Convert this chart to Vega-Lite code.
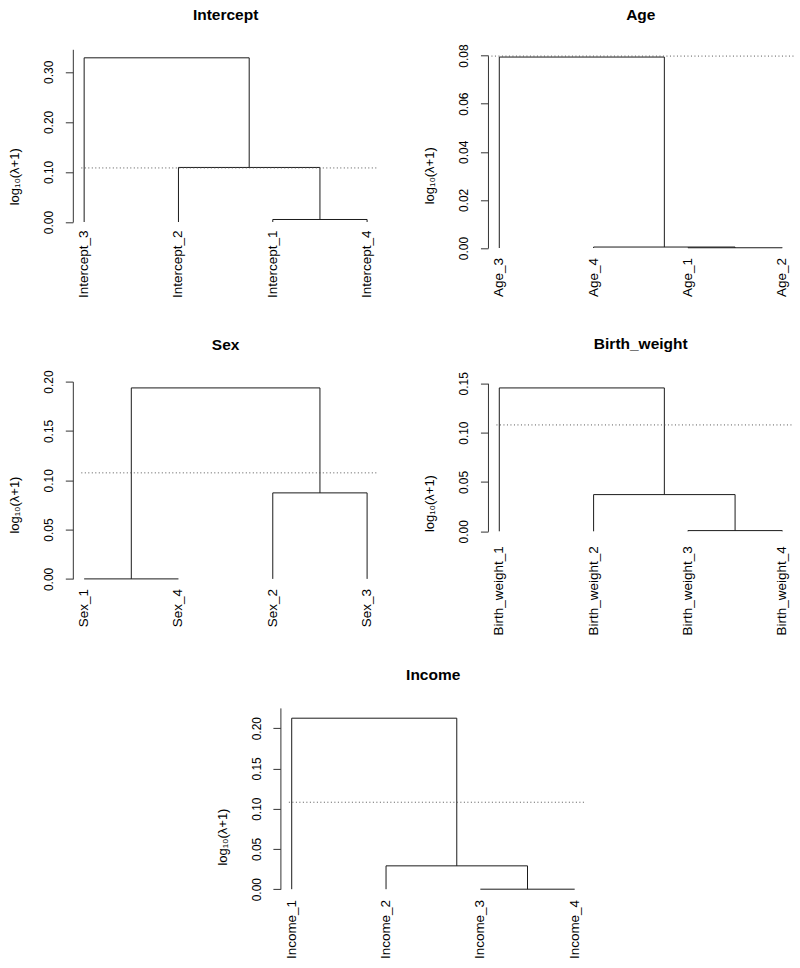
{
  "$schema": "https://vega.github.io/schema/vega-lite/v6.json",
  "background": "white",
  "padding": {"left": 8.45, "top": 7.3, "right": 2, "bottom": 2},
  "config": {
    "view": {"stroke": null},
    "font": "Liberation Sans",
    "title": {"font": "Liberation Sans", "fontSize": 15.5, "fontWeight": "bold", "color": "#000", "anchor": "middle", "frame": "group", "baseline": "alphabetic"},
    "axis": {"grid": false, "domainColor": "#333", "tickColor": "#333", "labelColor": "#000", "titleColor": "#000", "labelFont": "Liberation Sans", "titleFont": "Liberation Sans", "domainWidth": 1, "tickWidth": 1}
  },
  "datasets": {
    "seg_intercept": [
      {"x": 3, "x2": 4, "y": 0.005, "y2": 0.005}, {"x": 3, "x2": 3, "y": 0, "y2": 0.005}, {"x": 4, "x2": 4, "y": 0, "y2": 0.005},
      {"x": 2, "x2": 3.5, "y": 0.109, "y2": 0.109}, {"x": 2, "x2": 2, "y": 0, "y2": 0.109}, {"x": 3.5, "x2": 3.5, "y": 0.005, "y2": 0.109},
      {"x": 1, "x2": 2.75, "y": 0.328, "y2": 0.328}, {"x": 1, "x2": 1, "y": 0, "y2": 0.328}, {"x": 2.75, "x2": 2.75, "y": 0.109, "y2": 0.328}
    ],
    "seg_age": [
      {"x": 3, "x2": 4, "y": 0.0001, "y2": 0.0001}, {"x": 3, "x2": 3, "y": 0, "y2": 0.0001}, {"x": 4, "x2": 4, "y": 0, "y2": 0.0001},
      {"x": 2, "x2": 3.5, "y": 0.0004, "y2": 0.0004}, {"x": 2, "x2": 2, "y": 0, "y2": 0.0004}, {"x": 3.5, "x2": 3.5, "y": 0.0001, "y2": 0.0004},
      {"x": 1, "x2": 2.75, "y": 0.0794, "y2": 0.0794}, {"x": 1, "x2": 1, "y": 0, "y2": 0.0794}, {"x": 2.75, "x2": 2.75, "y": 0.0004, "y2": 0.0794}
    ],
    "seg_sex": [
      {"x": 1, "x2": 2, "y": 0, "y2": 0},
      {"x": 3, "x2": 4, "y": 0.0872, "y2": 0.0872}, {"x": 3, "x2": 3, "y": 0, "y2": 0.0872}, {"x": 4, "x2": 4, "y": 0, "y2": 0.0872},
      {"x": 1.5, "x2": 3.5, "y": 0.1936, "y2": 0.1936}, {"x": 1.5, "x2": 1.5, "y": 0, "y2": 0.1936}, {"x": 3.5, "x2": 3.5, "y": 0.0872, "y2": 0.1936}
    ],
    "seg_bw": [
      {"x": 3, "x2": 4, "y": 0.0007, "y2": 0.0007}, {"x": 3, "x2": 3, "y": 0, "y2": 0.0007}, {"x": 4, "x2": 4, "y": 0, "y2": 0.0007},
      {"x": 2, "x2": 3.5, "y": 0.0372, "y2": 0.0372}, {"x": 2, "x2": 2, "y": 0, "y2": 0.0372}, {"x": 3.5, "x2": 3.5, "y": 0.0007, "y2": 0.0372},
      {"x": 1, "x2": 2.75, "y": 0.1453, "y2": 0.1453}, {"x": 1, "x2": 1, "y": 0, "y2": 0.1453}, {"x": 2.75, "x2": 2.75, "y": 0.0372, "y2": 0.1453}
    ],
    "seg_income": [
      {"x": 3, "x2": 4, "y": 0, "y2": 0},
      {"x": 2, "x2": 3.5, "y": 0.029, "y2": 0.029}, {"x": 2, "x2": 2, "y": 0, "y2": 0.029}, {"x": 3.5, "x2": 3.5, "y": 0, "y2": 0.029},
      {"x": 1, "x2": 2.75, "y": 0.2124, "y2": 0.2124}, {"x": 1, "x2": 1, "y": 0, "y2": 0.2124}, {"x": 2.75, "x2": 2.75, "y": 0.029, "y2": 0.2124}
    ],
    "thr_intercept": [{"x": 0.97, "x2": 4.12, "h": 0.108}],
    "thr_age": [{"x": 0.88, "x2": 4.12, "h": 0.0798}],
    "thr_sex": [{"x": 0.97, "x2": 4.12, "h": 0.1075}],
    "thr_bw": [{"x": 0.97, "x2": 4.12, "h": 0.1078}],
    "thr_income": [{"x": 0.97, "x2": 4.12, "h": 0.108}],
    "leaf_intercept": [{"pos": 1, "label": "Intercept_3"}, {"pos": 2, "label": "Intercept_2"}, {"pos": 3, "label": "Intercept_1"}, {"pos": 4, "label": "Intercept_4"}],
    "leaf_age": [{"pos": 1, "label": "Age_3"}, {"pos": 2, "label": "Age_4"}, {"pos": 3, "label": "Age_1"}, {"pos": 4, "label": "Age_2"}],
    "leaf_sex": [{"pos": 1, "label": "Sex_1"}, {"pos": 2, "label": "Sex_4"}, {"pos": 3, "label": "Sex_2"}, {"pos": 4, "label": "Sex_3"}],
    "leaf_bw": [{"pos": 1, "label": "Birth_weight_1"}, {"pos": 2, "label": "Birth_weight_2"}, {"pos": 3, "label": "Birth_weight_3"}, {"pos": 4, "label": "Birth_weight_4"}],
    "leaf_income": [{"pos": 1, "label": "Income_1"}, {"pos": 2, "label": "Income_2"}, {"pos": 3, "label": "Income_3"}, {"pos": 4, "label": "Income_4"}]
  },
  "center": true,
  "spacing": 31.6,
  "vconcat": [
    {
      "spacing": 38.3,
      "vconcat": [
        {
          "spacing": 44.15,
          "hconcat": [
            {
              "width": 305.6, "height": 172.7,
              "title": {"text": "Intercept", "offset": 25.5},
              "layer": [
                {"data": {"name": "seg_intercept"}, "mark": {"type": "rule", "color": "#1a1a1a", "strokeWidth": 1},
                 "encoding": {
                   "x": {"field": "x", "type": "quantitative", "scale": {"domain": [0.88, 4.12], "nice": false, "zero": false}, "axis": null},
                   "x2": {"field": "x2"},
                   "y": {"field": "y", "type": "quantitative", "scale": {"domain": [0, 0.345], "nice": false, "zero": false},
                         "axis": {"values": [0, 0.05, 0.1, 0.15, 0.2, 0.25, 0.3], "labelExpr": "(round(datum.value*100) % 10 == 0) ? format(datum.value, '.2f') : ''",
                                  "labelAngle": 270, "labelAlign": "center", "labelBaseline": "middle", "labelPadding": 16.5, "tickSize": 7.5, "labelFontSize": 12, "labelFlush": false, "labelOverlap": false,
                                  "title": "log₁₀(λ+1)", "titleFontSize": 13, "titleFontWeight": "normal", "titleAngle": 270, "titleAlign": "center", "titleBaseline": "middle", "titleX": -58, "titleY": 127}},
                   "y2": {"field": "y2"}
                 }},
                {"data": {"name": "thr_intercept"}, "mark": {"type": "rule", "color": "#555", "strokeDash": [1, 2.5], "strokeWidth": 1},
                 "encoding": {"x": {"field": "x", "type": "quantitative"}, "x2": {"field": "x2"}, "y": {"field": "h", "type": "quantitative"}}},
                {"data": {"name": "leaf_intercept"}, "mark": {"type": "text", "angle": 270, "align": "right", "baseline": "middle", "dx": -8.6, "fontSize": 13.5, "color": "#000"},
                 "encoding": {"x": {"field": "pos", "type": "quantitative"}, "y": {"datum": 0}, "text": {"field": "label"}}}
              ]
            },
            {
              "width": 305.6, "height": 198.7,
              "title": {"text": "Age", "offset": 20.3},
              "layer": [
                {"data": {"name": "seg_age"}, "mark": {"type": "rule", "color": "#1a1a1a", "strokeWidth": 1},
                 "encoding": {
                   "x": {"field": "x", "type": "quantitative", "scale": {"domain": [0.88, 4.12], "nice": false, "zero": false}, "axis": null},
                   "x2": {"field": "x2"},
                   "y": {"field": "y", "type": "quantitative", "scale": {"domain": [0, 0.08], "range": [198.7, 6.3], "nice": false, "zero": false},
                         "axis": {"values": [0, 0.02, 0.04, 0.06, 0.08], "format": ".2f",
                                  "labelAngle": 270, "labelAlign": "center", "labelBaseline": "middle", "labelPadding": 16.5, "tickSize": 7.5, "labelFontSize": 12, "labelFlush": false, "labelOverlap": false,
                                  "title": "log₁₀(λ+1)", "titleFontSize": 13, "titleFontWeight": "normal", "titleAngle": 270, "titleAlign": "center", "titleBaseline": "middle", "titleX": -58, "titleY": 126}},
                   "y2": {"field": "y2"}
                 }},
                {"data": {"name": "thr_age"}, "mark": {"type": "rule", "color": "#555", "strokeDash": [1, 2.5], "strokeWidth": 1},
                 "encoding": {"x": {"field": "x", "type": "quantitative"}, "x2": {"field": "x2"}, "y": {"field": "h", "type": "quantitative"}}},
                {"data": {"name": "leaf_age"}, "mark": {"type": "text", "angle": 270, "align": "right", "baseline": "middle", "dx": -10, "fontSize": 13.5, "color": "#000"},
                 "encoding": {"x": {"field": "pos", "type": "quantitative"}, "y": {"datum": 0}, "text": {"field": "label"}}}
              ]
            }
          ]
        },
        {
          "spacing": 44.15,
          "hconcat": [
            {
              "width": 305.6, "height": 197.3,
              "title": {"text": "Sex", "offset": 16.3},
              "layer": [
                {"data": {"name": "seg_sex"}, "mark": {"type": "rule", "color": "#1a1a1a", "strokeWidth": 1},
                 "encoding": {
                   "x": {"field": "x", "type": "quantitative", "scale": {"domain": [0.88, 4.12], "nice": false, "zero": false}, "axis": null},
                   "x2": {"field": "x2"},
                   "y": {"field": "y", "type": "quantitative", "scale": {"domain": [0, 0.2], "nice": false, "zero": false},
                         "axis": {"values": [0, 0.05, 0.1, 0.15, 0.2], "format": ".2f",
                                  "labelAngle": 270, "labelAlign": "center", "labelBaseline": "middle", "labelPadding": 16.5, "tickSize": 7.5, "labelFontSize": 12, "labelFlush": false, "labelOverlap": false,
                                  "title": "log₁₀(λ+1)", "titleFontSize": 13, "titleFontWeight": "normal", "titleAngle": 270, "titleAlign": "center", "titleBaseline": "middle", "titleX": -58, "titleY": 123}},
                   "y2": {"field": "y2"}
                 }},
                {"data": {"name": "thr_sex"}, "mark": {"type": "rule", "color": "#555", "strokeDash": [1, 2.5], "strokeWidth": 1},
                 "encoding": {"x": {"field": "x", "type": "quantitative"}, "x2": {"field": "x2"}, "y": {"field": "h", "type": "quantitative"}}},
                {"data": {"name": "leaf_sex"}, "mark": {"type": "text", "angle": 270, "align": "right", "baseline": "middle", "dx": -10, "fontSize": 13.5, "color": "#000"},
                 "encoding": {"x": {"field": "pos", "type": "quantitative"}, "y": {"datum": 0}, "text": {"field": "label"}}}
              ]
            },
            {
              "width": 305.6, "height": 149.7,
              "title": {"text": "Birth_weight", "offset": 18.7},
              "layer": [
                {"data": {"name": "seg_bw"}, "mark": {"type": "rule", "color": "#1a1a1a", "strokeWidth": 1},
                 "encoding": {
                   "x": {"field": "x", "type": "quantitative", "scale": {"domain": [0.88, 4.12], "nice": false, "zero": false}, "axis": null},
                   "x2": {"field": "x2"},
                   "y": {"field": "y", "type": "quantitative", "scale": {"domain": [0, 0.15], "range": [149.7, 1.7], "nice": false, "zero": false},
                         "axis": {"values": [0, 0.05, 0.1, 0.15], "format": ".2f",
                                  "labelAngle": 270, "labelAlign": "center", "labelBaseline": "middle", "labelPadding": 16.5, "tickSize": 7.5, "labelFontSize": 12, "labelFlush": false, "labelOverlap": false,
                                  "title": "log₁₀(λ+1)", "titleFontSize": 13, "titleFontWeight": "normal", "titleAngle": 270, "titleAlign": "center", "titleBaseline": "middle", "titleX": -58, "titleY": 121.5}},
                   "y2": {"field": "y2"}
                 }},
                {"data": {"name": "thr_bw"}, "mark": {"type": "rule", "color": "#555", "strokeDash": [1, 2.5], "strokeWidth": 1},
                 "encoding": {"x": {"field": "x", "type": "quantitative"}, "x2": {"field": "x2"}, "y": {"field": "h", "type": "quantitative"}}},
                {"data": {"name": "leaf_bw"}, "mark": {"type": "text", "angle": 270, "align": "right", "baseline": "middle", "dx": -15, "fontSize": 13.5, "color": "#000"},
                 "encoding": {"x": {"field": "pos", "type": "quantitative"}, "y": {"datum": 0}, "text": {"field": "label"}}}
              ]
            }
          ]
        }
      ]
    },
    {
      "width": 305.6, "height": 181.3,
      "title": {"text": "Income", "offset": 24},
      "layer": [
        {"data": {"name": "seg_income"}, "mark": {"type": "rule", "color": "#1a1a1a", "strokeWidth": 1},
         "encoding": {
           "x": {"field": "x", "type": "quantitative", "scale": {"domain": [0.88, 4.12], "nice": false, "zero": false}, "axis": null},
           "x2": {"field": "x2"},
           "y": {"field": "y", "type": "quantitative", "scale": {"domain": [0, 0.2252], "nice": false, "zero": false},
                 "axis": {"values": [0, 0.05, 0.1, 0.15, 0.2], "format": ".2f",
                          "labelAngle": 270, "labelAlign": "center", "labelBaseline": "middle", "labelPadding": 16.5, "tickSize": 7.5, "labelFontSize": 12, "labelFlush": false, "labelOverlap": false,
                          "title": "log₁₀(λ+1)", "titleFontSize": 13, "titleFontWeight": "normal", "titleAngle": 270, "titleAlign": "center", "titleBaseline": "middle", "titleX": -58, "titleY": 128.7}},
           "y2": {"field": "y2"}
         }},
        {"data": {"name": "thr_income"}, "mark": {"type": "rule", "color": "#555", "strokeDash": [1, 2.5], "strokeWidth": 1},
         "encoding": {"x": {"field": "x", "type": "quantitative"}, "x2": {"field": "x2"}, "y": {"field": "h", "type": "quantitative"}}},
        {"data": {"name": "leaf_income"}, "mark": {"type": "text", "angle": 270, "align": "right", "baseline": "middle", "dx": -10.7, "fontSize": 13.5, "color": "#000"},
         "encoding": {"x": {"field": "pos", "type": "quantitative"}, "y": {"datum": 0}, "text": {"field": "label"}}}
      ]
    }
  ]
}
